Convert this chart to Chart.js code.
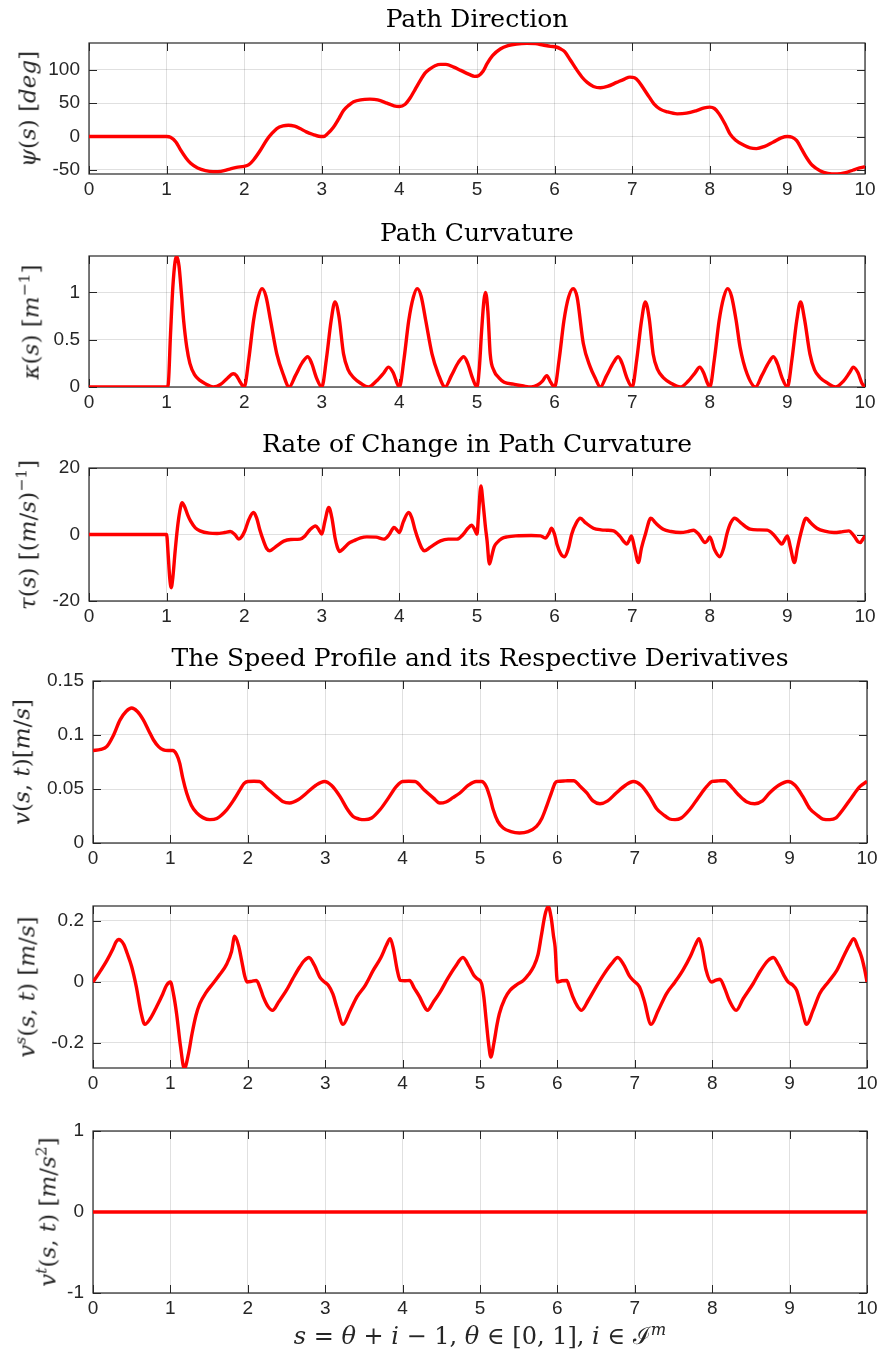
<!DOCTYPE html>
<html>
<head>
<meta charset="utf-8">
<script src="https://cdn.jsdelivr.net/npm/chart.js@4.4.0/dist/chart.umd.min.js"></script>
<style>
  html, body { margin: 0; padding: 0; background: #fff; }
  #page { position: relative; width: 879px; height: 1358px; overflow: hidden; }
  .panel { position: absolute; left: 0; width: 879px; }
  .title { position: absolute; font-family: 'DejaVu Serif', serif; font-size: 25px; line-height: 25px; text-align: center; color: #000; white-space: nowrap; }
  .ylab { position: absolute; font-family: 'DejaVu Serif', serif; font-size: 23px; line-height: 23px; color: #262626; white-space: nowrap; transform: translate(-50%, -50%) rotate(-90deg); }
  .xlab { position: absolute; font-family: 'DejaVu Serif', serif; font-size: 24px; line-height: 24px; color: #262626; white-space: nowrap; text-align: center; }
  sup { font-size: 0.68em; vertical-align: 0.55em; line-height: 0; }
</style>
</head>
<body>
<div id="page"></div>
<script>
const xTicks = [0, 1, 2, 3, 4, 5, 6, 7, 8, 9, 10];

// path direction psi(s) [deg]
const psiTicks = [-50, 0, 50, 100];
const psiS = [0, 0.5, 1.0, 1.05, 1.12, 1.18, 1.25, 1.31, 1.4, 1.5, 1.6, 1.7, 1.8, 1.9, 2.0, 2.06, 2.12, 2.2, 2.29, 2.36, 2.42, 2.5, 2.57, 2.65, 2.72, 2.8, 2.89, 2.96, 3.02, 3.08, 3.15, 3.22, 3.28, 3.35, 3.41, 3.5, 3.62, 3.72, 3.84, 3.93, 4.0, 4.07, 4.14, 4.2, 4.27, 4.33, 4.39, 4.46, 4.53, 4.6, 4.7, 4.79, 4.9, 4.97, 5.02, 5.08, 5.13, 5.2, 5.3, 5.4, 5.51, 5.64, 5.75, 5.85, 5.95, 6.02, 6.08, 6.13, 6.2, 6.29, 6.36, 6.42, 6.5, 6.59, 6.68, 6.8, 6.9, 6.97, 7.03, 7.08, 7.14, 7.22, 7.28, 7.36, 7.45, 7.58, 7.7, 7.83, 7.93, 8.0, 8.06, 8.12, 8.2, 8.26, 8.33, 8.44, 8.52, 8.6, 8.7, 8.82, 8.92, 9.0, 9.06, 9.12, 9.18, 9.25, 9.32, 9.42, 9.52, 9.64, 9.75, 9.85, 9.93, 10];
const psiVals = [0, 0, 0, -1, -8, -20, -32, -40, -47, -51, -52.5, -52, -49, -46, -44.5, -42, -35, -22, -5, 5, 12, 16, 17, 15.5, 12, 7, 3, 0.5, 0, 5, 14, 27, 39, 47, 52, 55, 56, 55, 50, 46, 45, 48, 58, 70, 84, 95, 101, 106, 108, 108, 104, 99, 93, 90, 91, 98, 109, 121, 131, 136, 138.5, 139.5, 139, 137, 135, 134, 131, 127, 115, 99, 88, 81, 75, 73, 75, 81, 86, 89, 88, 83, 73, 59, 49, 41, 37, 34, 35, 39, 43, 44, 42, 34, 18, 4, -5, -13, -17, -18, -15, -8, -2, 0, -1, -6, -18, -32, -43, -51, -55, -56, -54, -50, -47, -45];

// path curvature kappa(s) [1/m]
const kappaTicks = [0, 0.5, 1];
const kappaS = [0, 1.0, 1.02, 1.05, 1.08, 1.11, 1.13, 1.16, 1.19, 1.22, 1.26, 1.3, 1.36, 1.43, 1.5, 1.6, 1.7, 1.78, 1.86, 1.9, 1.95, 2.0, 2.06, 2.12, 2.18, 2.23, 2.28, 2.34, 2.42, 2.5, 2.58, 2.66, 2.75, 2.82, 2.87, 2.93, 3.0, 3.06, 3.12, 3.17, 3.22, 3.28, 3.34, 3.41, 3.5, 3.6, 3.7, 3.8, 3.86, 3.92, 3.97, 4.0, 4.06, 4.12, 4.18, 4.23, 4.28, 4.34, 4.42, 4.5, 4.59, 4.67, 4.76, 4.83, 4.88, 4.94, 5.0, 5.03, 5.06, 5.09, 5.11, 5.14, 5.17, 5.22, 5.28, 5.35, 5.47, 5.6, 5.7, 5.78, 5.84, 5.9, 5.95, 6.0, 6.06, 6.12, 6.18, 6.24, 6.29, 6.37, 6.46, 6.52, 6.59, 6.67, 6.76, 6.82, 6.87, 6.93, 7.0, 7.06, 7.12, 7.17, 7.22, 7.27, 7.33, 7.4, 7.5, 7.62, 7.72, 7.81, 7.87, 7.92, 7.97, 8.0, 8.06, 8.12, 8.18, 8.23, 8.28, 8.34, 8.39, 8.48, 8.59, 8.67, 8.76, 8.82, 8.87, 8.93, 9.0, 9.06, 9.12, 9.17, 9.22, 9.29, 9.35, 9.42, 9.52, 9.62, 9.72, 9.8, 9.85, 9.91, 9.96, 10];
const kappaVals = [0, 0, 0.02, 0.55, 1.05, 1.33, 1.38, 1.28, 1.0, 0.7, 0.42, 0.25, 0.13, 0.07, 0.035, 0, 0.03, 0.09, 0.14, 0.12, 0.05, 0, 0.3, 0.7, 0.95, 1.04, 0.96, 0.7, 0.35, 0.14, 0, 0.12, 0.26, 0.32, 0.25, 0.1, 0, 0.3, 0.7, 0.9, 0.75, 0.35, 0.18, 0.1, 0.04, 0, 0.06, 0.15, 0.21, 0.15, 0.04, 0, 0.3, 0.7, 0.95, 1.04, 0.96, 0.7, 0.35, 0.14, 0, 0.12, 0.26, 0.32, 0.25, 0.1, 0, 0.2, 0.6, 0.92, 1.0, 0.8, 0.35, 0.17, 0.1, 0.05, 0.03, 0.01, 0, 0.02, 0.06, 0.12, 0.05, 0, 0.3, 0.7, 0.95, 1.04, 0.95, 0.46, 0.21, 0.1, 0, 0.12, 0.26, 0.32, 0.25, 0.1, 0, 0.3, 0.7, 0.9, 0.72, 0.35, 0.18, 0.1, 0.04, 0, 0.06, 0.15, 0.21, 0.15, 0.04, 0, 0.3, 0.7, 0.95, 1.04, 0.96, 0.7, 0.42, 0.14, 0, 0.12, 0.26, 0.32, 0.25, 0.1, 0, 0.3, 0.7, 0.9, 0.72, 0.35, 0.18, 0.1, 0.04, 0, 0.06, 0.15, 0.21, 0.15, 0.04, 0];

// rate of change in path curvature tau(s)
const tauTicks = [-20, 0, 20];
const tauS = [0, 1.0, 1.02, 1.04, 1.06, 1.08, 1.11, 1.14, 1.17, 1.2, 1.23, 1.27, 1.31, 1.37, 1.43, 1.55, 1.65, 1.75, 1.82, 1.88, 1.93, 1.97, 2.01, 2.06, 2.12, 2.16, 2.2, 2.25, 2.29, 2.33, 2.4, 2.51, 2.6, 2.72, 2.78, 2.85, 2.92, 2.96, 3.0, 3.04, 3.09, 3.13, 3.17, 3.2, 3.23, 3.28, 3.35, 3.41, 3.5, 3.58, 3.7, 3.8, 3.87, 3.93, 3.97, 4.0, 4.05, 4.12, 4.16, 4.2, 4.25, 4.29, 4.32, 4.4, 4.53, 4.63, 4.74, 4.82, 4.88, 4.93, 4.97, 5.0, 5.02, 5.05, 5.08, 5.11, 5.13, 5.16, 5.19, 5.22, 5.26, 5.32, 5.39, 5.5, 5.7, 5.82, 5.88, 5.93, 5.96, 6.0, 6.03, 6.08, 6.13, 6.18, 6.22, 6.28, 6.33, 6.4, 6.5, 6.6, 6.67, 6.76, 6.84, 6.9, 6.93, 6.96, 6.99, 7.03, 7.08, 7.12, 7.17, 7.24, 7.3, 7.4, 7.5, 7.62, 7.72, 7.79, 7.86, 7.94, 7.97, 8.0, 8.06, 8.13, 8.18, 8.22, 8.27, 8.32, 8.4, 8.52, 8.62, 8.74, 8.82, 8.9, 8.93, 8.96, 9.0, 9.04, 9.09, 9.13, 9.18, 9.24, 9.3, 9.38, 9.48, 9.6, 9.7, 9.79, 9.86, 9.91, 9.94, 9.97, 10];
const tauVals = [0, 0, -6, -13, -16, -13, -5, 2, 7, 9.6, 8.5, 6, 4, 2, 1.1, 0.4, 0.3, 0.6, 0.9, 0, -1.4, -0.6, 1.2, 4.5, 6.6, 5, 1.5, -2, -4.2, -4.9, -3.8, -2, -1.5, -1.4, -0.5, 1.5, 2.6, 1.5, 0.1, 4, 8.1, 5, -0.9, -3.8, -5.1, -4.2, -2.6, -1.9, -1, -0.7, -0.8, -1.4, 0, 2.1, 1.3, 0.6, 3.8, 6.6, 5, 1.5, -2, -4.2, -4.9, -3.8, -1.9, -1.4, -1.4, 0, 1.8, 2.8, 1.5, 0.1, 6, 14.6, 9, 2, -1.9, -8.9, -6.5, -3.8, -2.4, -1.2, -0.7, -0.4, -0.3, -0.4, -1.1, 0.5, 1.9, 0, -2.9, -5.8, -6.7, -4, 0.1, 3.5, 4.9, 3.5, 1.9, 1.4, 1.3, 1.1, -0.5, -2.3, -2.9, -1.8, -0.4, -4, -8.4, -4, 0.1, 4.9, 3.5, 1.6, 0.9, 0.6, 0.9, 1.3, 0, -2.4, -1.8, -0.7, -4.5, -6.7, -4, 0.1, 3.5, 4.9, 3.5, 1.6, 1.4, 1.3, 0, -2.3, -2.9, -1.8, -0.4, -4, -8.4, -4, 1, 4.9, 3.5, 1.9, 1, 0.6, 0.8, 1.1, -0.5, -2.2, -2.4, -1.5, -0.4];

// speed profile v(s,t) [m/s]
const speedTicks = [0, 0.05, 0.1, 0.15];
const speedS = [0, 0.1, 0.18, 0.26, 0.35, 0.43, 0.5, 0.57, 0.65, 0.72, 0.78, 0.85, 0.91, 0.97, 1.03, 1.08, 1.12, 1.16, 1.21, 1.27, 1.34, 1.42, 1.51, 1.6, 1.73, 1.82, 1.9, 1.95, 2.0, 2.08, 2.15, 2.25, 2.37, 2.45, 2.54, 2.65, 2.76, 2.88, 2.99, 3.08, 3.19, 3.28, 3.36, 3.44, 3.51, 3.6, 3.71, 3.82, 3.92, 4.0, 4.08, 4.16, 4.28, 4.4, 4.48, 4.56, 4.65, 4.74, 4.85, 4.95, 5.02, 5.08, 5.13, 5.17, 5.23, 5.3, 5.4, 5.51, 5.62, 5.73, 5.8, 5.86, 5.92, 5.97, 6.0, 6.1, 6.21, 6.3, 6.38, 6.46, 6.55, 6.65, 6.76, 6.88, 6.98, 7.08, 7.19, 7.28, 7.37, 7.45, 7.52, 7.6, 7.71, 7.82, 7.93, 8.0, 8.08, 8.16, 8.26, 8.36, 8.45, 8.55, 8.65, 8.74, 8.86, 8.98, 9.07, 9.17, 9.26, 9.35, 9.43, 9.52, 9.6, 9.69, 9.8, 9.91, 10];
const speedVals = [0.0857, 0.0866, 0.0894, 0.099, 0.114, 0.122, 0.125, 0.122, 0.114, 0.104, 0.0956, 0.089, 0.0863, 0.0857, 0.0857, 0.082, 0.074, 0.06, 0.0463, 0.035, 0.0278, 0.0235, 0.0216, 0.0228, 0.031, 0.04, 0.0494, 0.055, 0.057, 0.0572, 0.057, 0.0505, 0.0432, 0.0385, 0.037, 0.04, 0.0463, 0.0535, 0.057, 0.0535, 0.0432, 0.032, 0.0246, 0.0222, 0.0216, 0.0232, 0.031, 0.042, 0.0524, 0.057, 0.0572, 0.057, 0.049, 0.0416, 0.037, 0.038, 0.042, 0.0463, 0.0535, 0.057, 0.057, 0.0524, 0.042, 0.031, 0.02, 0.0139, 0.0105, 0.0093, 0.0105, 0.0154, 0.023, 0.0339, 0.046, 0.0555, 0.057, 0.0575, 0.0577, 0.052, 0.0463, 0.039, 0.0364, 0.039, 0.0463, 0.0535, 0.057, 0.0535, 0.0432, 0.032, 0.0262, 0.0222, 0.0216, 0.0232, 0.031, 0.042, 0.0524, 0.057, 0.0575, 0.0577, 0.051, 0.0432, 0.038, 0.0364, 0.039, 0.0463, 0.0535, 0.057, 0.0535, 0.0432, 0.032, 0.0262, 0.0222, 0.0216, 0.0232, 0.031, 0.042, 0.0524, 0.057];

// its derivative along the path v^s(s,t)
const dSpeedTicks = [-0.2, 0, 0.2];
const dSpeedS = [0, 0.08, 0.18, 0.26, 0.3, 0.33, 0.36, 0.4, 0.44, 0.5, 0.56, 0.62, 0.67, 0.74, 0.82, 0.9, 0.95, 1.0, 1.04, 1.08, 1.13, 1.18, 1.23, 1.28, 1.33, 1.38, 1.46, 1.55, 1.64, 1.73, 1.79, 1.83, 1.88, 1.92, 1.96, 1.99, 2.05, 2.11, 2.16, 2.2, 2.26, 2.32, 2.4, 2.5, 2.58, 2.67, 2.73, 2.79, 2.86, 2.93, 2.98, 3.04, 3.1, 3.15, 3.23, 3.32, 3.41, 3.52, 3.62, 3.72, 3.79, 3.84, 3.88, 3.93, 3.97, 4.03, 4.09, 4.15, 4.22, 4.28, 4.32, 4.4, 4.48, 4.58, 4.68, 4.78, 4.86, 4.92, 4.96, 5.02, 5.05, 5.08, 5.11, 5.14, 5.18, 5.22, 5.25, 5.32, 5.39, 5.48, 5.56, 5.63, 5.69, 5.75, 5.79, 5.84, 5.88, 5.92, 5.95, 5.97, 6.0, 6.06, 6.12, 6.16, 6.2, 6.26, 6.31, 6.4, 6.5, 6.6, 6.7, 6.78, 6.86, 6.93, 6.98, 7.06, 7.12, 7.21, 7.3, 7.41, 7.52, 7.62, 7.72, 7.78, 7.83, 7.87, 7.92, 7.99, 8.05, 8.1, 8.16, 8.22, 8.31, 8.4, 8.53, 8.62, 8.72, 8.79, 8.86, 8.93, 8.98, 9.04, 9.09, 9.15, 9.22, 9.3, 9.39, 9.5, 9.61, 9.7, 9.77, 9.83, 9.88, 9.93, 9.97, 10];
const dSpeedVals = [0, 0.03, 0.071, 0.11, 0.132, 0.139, 0.136, 0.122, 0.095, 0.05, -0.016, -0.1, -0.139, -0.12, -0.082, -0.04, -0.011, 0, -0.04, -0.104, -0.21, -0.284, -0.24, -0.169, -0.11, -0.071, -0.035, -0.005, 0.025, 0.06, 0.1, 0.15, 0.12, 0.071, 0.02, 0, 0.002, 0.005, -0.02, -0.049, -0.08, -0.093, -0.065, -0.027, 0.01, 0.049, 0.07, 0.08, 0.055, 0.016, 0.002, -0.011, -0.04, -0.082, -0.139, -0.095, -0.049, -0.01, 0.038, 0.08, 0.12, 0.142, 0.11, 0.04, 0.005, 0.004, 0.005, -0.02, -0.049, -0.08, -0.093, -0.065, -0.035, 0.01, 0.05, 0.08, 0.05, 0.022, 0.011, -0.005, -0.05, -0.126, -0.2, -0.246, -0.2, -0.14, -0.104, -0.055, -0.027, -0.008, 0.005, 0.025, 0.049, 0.09, 0.148, 0.22, 0.248, 0.21, 0.15, 0.115, 0, 0.004, 0.005, -0.02, -0.049, -0.08, -0.093, -0.06, -0.016, 0.025, 0.06, 0.08, 0.055, 0.02, 0.005, -0.016, -0.06, -0.139, -0.095, -0.038, 0, 0.038, 0.085, 0.12, 0.142, 0.11, 0.04, 0, 0.006, 0.009, -0.02, -0.06, -0.093, -0.055, -0.005, 0.035, 0.07, 0.08, 0.055, 0.02, 0, -0.01, -0.027, -0.08, -0.139, -0.095, -0.038, 0, 0.038, 0.085, 0.12, 0.142, 0.115, 0.082, 0.04, 0];

// its time derivative v^t(s,t)
const accelTicks = [-1, 0, 1];
const accelS = [0, 10];
const accelVals = [0, 0];

const W = 879;
const PAD_TOP = 12;
const X_AXIS_H = 30;

const panels = [
  { s: psiS, v: psiVals, ticks: psiTicks, min: -56, max: 140, left: 89, right: 865, top: 43, bottom: 174,
    title: 'Path Direction', titleTop: 6, labX: 28,
    ylab: '<i>ψ</i>(<i>s</i>) [<i>deg</i>]' },
  { s: kappaS, v: kappaVals, ticks: kappaTicks, min: 0, max: 1.385, left: 89, right: 865, top: 256, bottom: 387,
    title: 'Path Curvature', titleTop: 220, labX: 31,
    ylab: '<i>κ</i>(<i>s</i>) [<i>m</i><sup>−1</sup>]' },
  { s: tauS, v: tauVals, ticks: tauTicks, min: -20, max: 20, left: 89, right: 865, top: 468, bottom: 601,
    title: 'Rate of Change in Path Curvature', titleTop: 431, labX: 28,
    ylab: '<i>τ</i>(<i>s</i>) [(<i>m</i>/<i>s</i>)<sup>−1</sup>]' },
  { s: speedS, v: speedVals, ticks: speedTicks, min: 0, max: 0.15, left: 93, right: 867, top: 681, bottom: 843,
    title: 'The Speed Profile and its Respective Derivatives', titleTop: 645, labX: 22,
    ylab: '<i>v</i>(<i>s</i>, <i>t</i>)[<i>m</i>/<i>s</i>]' },
  { s: dSpeedS, v: dSpeedVals, ticks: dSpeedTicks, min: -0.282, max: 0.249, left: 93, right: 867, top: 906, bottom: 1068,
    title: null, labX: 27,
    ylab: '<i>v</i><sup><i>s</i></sup>(<i>s</i>, <i>t</i>) [<i>m</i>/<i>s</i>]' },
  { s: accelS, v: accelVals, ticks: accelTicks, min: -1, max: 1, left: 93, right: 867, top: 1131, bottom: 1293,
    title: null, labX: 48,
    ylab: '<i>v</i><sup><i>t</i></sup>(<i>s</i>, <i>t</i>) [<i>m</i>/<i>s</i><sup>2</sup>]' }
];

// MATLAB style box with inward ticks on all four sides
const matlabBox = {
  id: 'matlabBox',
  beforeDatasetsDraw(chart) {
    const { ctx, chartArea: a, scales: { x, y } } = chart;
    const tl = 8;
    ctx.save();
    ctx.strokeStyle = '#262626';
    ctx.lineWidth = 1;
    ctx.beginPath();
    x.ticks.forEach(t => {
      const px = Math.round(x.getPixelForValue(t.value)) + 0.5;
      ctx.moveTo(px, a.top); ctx.lineTo(px, a.top + tl);
      ctx.moveTo(px, a.bottom); ctx.lineTo(px, a.bottom - tl);
    });
    y.ticks.forEach(t => {
      const py = Math.round(y.getPixelForValue(t.value)) + 0.5;
      ctx.moveTo(a.left, py); ctx.lineTo(a.left + tl, py);
      ctx.moveTo(a.right, py); ctx.lineTo(a.right - tl, py);
    });
    ctx.stroke();
    ctx.lineWidth = 1.2;
    ctx.strokeRect(a.left, a.top, a.right - a.left, a.bottom - a.top);
    ctx.restore();
  }
};

const tickFont = { family: "'Liberation Sans', Arial, sans-serif", size: 19 };
const gridOpts = { color: 'rgba(0,0,0,0.12)', lineWidth: 1, drawTicks: false };
const page = document.getElementById('page');

panels.forEach(p => {
  const div = document.createElement('div');
  div.className = 'panel';
  div.style.top = (p.top - PAD_TOP) + 'px';
  div.style.height = (p.bottom - p.top + PAD_TOP + X_AXIS_H) + 'px';
  const canvas = document.createElement('canvas');
  div.appendChild(canvas);
  page.appendChild(div);

  if (p.title) {
    const t = document.createElement('div');
    t.className = 'title';
    t.style.left = p.left + 'px';
    t.style.width = (p.right - p.left) + 'px';
    t.style.top = p.titleTop + 'px';
    t.textContent = p.title;
    page.appendChild(t);
  }
  const yl = document.createElement('div');
  yl.className = 'ylab';
  yl.style.left = p.labX + 'px';
  yl.style.top = ((p.top + p.bottom) / 2) + 'px';
  yl.innerHTML = p.ylab;
  page.appendChild(yl);

  new Chart(canvas.getContext('2d'), {
    type: 'line',
    data: {
      datasets: [{
        data: p.s.map((s, i) => ({ x: s, y: p.v[i] })),
        borderColor: '#ff0000',
        borderWidth: 3.4,
        pointRadius: 0,
        fill: false,
        cubicInterpolationMode: 'monotone'
      }]
    },
    options: {
      responsive: true,
      maintainAspectRatio: false,
      animation: false,
      devicePixelRatio: 1,
      layout: { padding: { top: PAD_TOP, right: W - p.right, left: 0, bottom: 0 } },
      plugins: { legend: { display: false }, tooltip: { enabled: false } },
      scales: {
        x: {
          type: 'linear', min: 0, max: 10,
          afterBuildTicks: s => { s.ticks = xTicks.map(v => ({ value: v })); },
          afterFit: s => { s.height = X_AXIS_H; s.paddingLeft = 0; s.paddingRight = 0; },
          grid: gridOpts,
          border: { display: false },
          ticks: { font: tickFont, color: '#262626', padding: 4, maxRotation: 0, autoSkip: false, callback: v => String(v) }
        },
        y: {
          type: 'linear', min: p.min, max: p.max,
          afterBuildTicks: s => { s.ticks = p.ticks.map(v => ({ value: v })); },
          afterFit: s => { s.width = p.left; s.paddingTop = 0; s.paddingBottom = 0; },
          grid: gridOpts,
          border: { display: false },
          ticks: { font: tickFont, color: '#262626', padding: 9, autoSkip: false, callback: v => String(v) }
        }
      }
    },
    plugins: [matlabBox]
  });
});

const xl = document.createElement('div');
xl.className = 'xlab';
xl.style.left = '93px';
xl.style.width = '774px';
xl.style.top = '1324px';
xl.innerHTML = '<i>s</i> = <i>θ</i> + <i>i</i> − 1, <i>θ</i> ∈ [0, 1], <i>i</i> ∈ ℐ<sup><i>m</i></sup>';
page.appendChild(xl);
</script>
</body>
</html>
